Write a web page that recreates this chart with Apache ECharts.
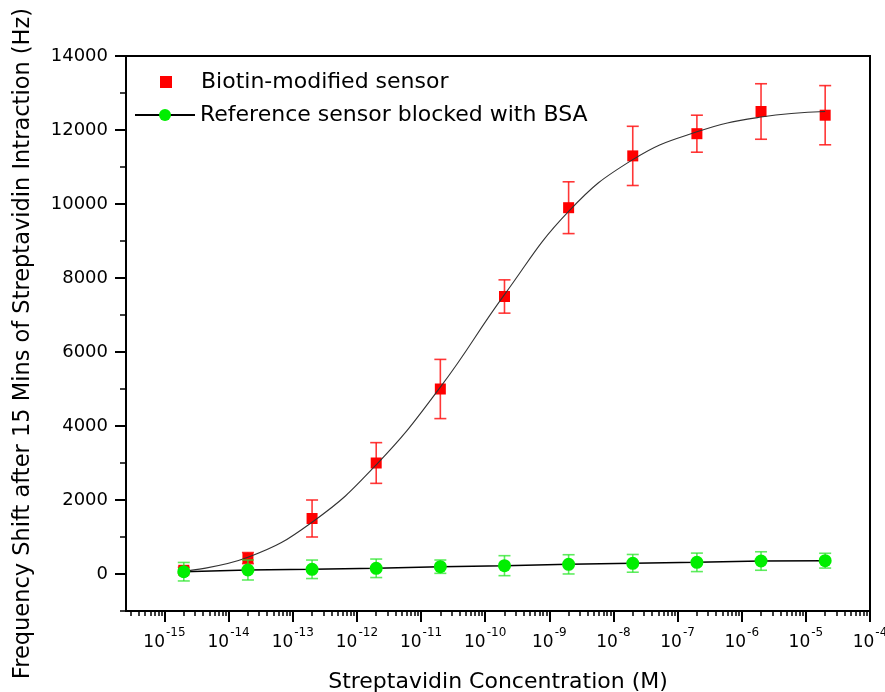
<!DOCTYPE html>
<html>
<head>
<meta charset="utf-8">
<script src="https://cdn.jsdelivr.net/npm/echarts@6/dist/echarts.min.js"></script>
<style>
  html, body { margin: 0; padding: 0; background: #fff; }
  #chart { width: 885px; height: 692px; }
</style>
</head>
<body>
<div id="chart"></div>
<script>
// streptavidin concentration (M)
const concentrations = [2e-15, 2e-14, 2e-13, 2e-12, 2e-11, 2e-10, 2e-9, 2e-8, 2e-7, 2e-6, 2e-5];
// biotin-modified sensor: frequency shift (Hz) and error
const biotinShift = [100, 430, 1500, 3000, 5000, 7500, 9900, 11300, 11900, 12500, 12400];
const biotinErr = [80, 150, 500, 550, 800, 450, 700, 800, 500, 750, 800];
// fitted curve at the same concentrations
const biotinFit = [80, 450, 1400, 2950, 5050, 7550, 9800, 11200, 11950, 12350, 12500];
// reference sensor blocked with BSA
const bsaShift = [62, 108, 127, 154, 198, 225, 261, 288, 315, 351, 360];
const bsaErr = [250, 270, 250, 250, 180, 270, 260, 240, 250, 250, 200];

const xTickExponents = [-15, -14, -13, -12, -11, -10, -9, -8, -7, -6, -5, -4];
const yTickLabels = [0, 2000, 4000, 6000, 8000, 10000, 12000, 14000];
const yMinorTicks = [-1000, 1000, 3000, 5000, 7000, 9000, 11000, 13000];

const FONT = 'DejaVu Sans';
const X_MIN = Math.pow(10, -15.6);
const X_MAX = 1e-4;

const xMajorTicks = xTickExponents.map(e => Math.pow(10, e));
// log minor ticks 2..9 in every decade
let xMinorTicks = [];
for (let k = -16; k <= -5; k++)
{
  for (let m = 2; m <= 9; m++)
  {
    let v = m * Math.pow(10, k);
    if (v > X_MIN && v < X_MAX) xMinorTicks.push(v);
  }
}

function errorBars (color)
{
  return function (params, api)
  {
    let x = api.value(0);
    let y = api.value(1);
    let e = api.value(2);
    let top = api.coord([x, y + e]);
    let bot = api.coord([x, y - e]);
    let hw = 6;
    let style = { stroke: color, lineWidth: 1.6 };
    return {
      type: 'group',
      children: [
        { type: 'line', shape: { x1: top[0], y1: top[1], x2: bot[0], y2: bot[1] }, style: style },
        { type: 'line', shape: { x1: top[0] - hw, y1: top[1], x2: top[0] + hw, y2: top[1] }, style: style },
        { type: 'line', shape: { x1: bot[0] - hw, y1: bot[1], x2: bot[0] + hw, y2: bot[1] }, style: style }
      ]
    };
  };
}

const chart = echarts.init(document.getElementById('chart'), null, { renderer: 'canvas' });

let option = {
  backgroundColor: '#fff',
  animation: false,
  textStyle: { fontFamily: FONT },
  grid: {
    left: 126,
    right: 15,
    top: 56,
    bottom: 81,
    containLabel: false,
    outerBoundsMode: 'none',
    show: true,
    borderColor: '#000',
    borderWidth: 2,
    backgroundColor: 'transparent'
  },
  legend: [
    {
      left: 155,
      top: 66,
      itemWidth: 60,
      itemHeight: 12,
      padding: 5,
      textStyle: { fontFamily: FONT, fontSize: 22, color: '#000' },
      data: [{ name: 'Biotin-modified sensor', icon: 'path://M0,0L10,0L10,10L0,10Z' }]
    },
    {
      left: 129,
      top: 99,
      itemWidth: 60,
      itemHeight: 15,
      padding: 5,
      textStyle: { fontFamily: FONT, fontSize: 22, color: '#000' },
      data: ['Reference sensor blocked with BSA']
    }
  ],
  xAxis: [
    {
      type: 'log',
      min: X_MIN,
      max: X_MAX,
      name: 'Streptavidin Concentration (M)',
      nameLocation: 'middle',
      nameGap: 60,
      nameTextStyle: { fontFamily: FONT, fontSize: 22, color: '#000' },
      axisLine: { show: true, onZero: false, lineStyle: { color: '#000', width: 2 } },
      axisTick: { show: true, inside: false, length: 11, customValues: xMajorTicks, lineStyle: { color: '#000', width: 2 } },
      splitLine: { show: false },
      axisLabel: {
        customValues: xMajorTicks,
        margin: 22,
        formatter: function (v)
        {
          return '{b|10}{e|' + Math.round(Math.log10(v)) + '}';
        },
        rich: {
          b: { fontFamily: FONT, fontSize: 17, lineHeight: 18, color: '#000', verticalAlign: 'bottom' },
          e: { fontFamily: FONT, fontSize: 12, lineHeight: 12, color: '#000', verticalAlign: 'bottom', padding: [0, 0, 12, 1] }
        }
      }
    },
    {
      // minor ticks only
      type: 'log',
      min: X_MIN,
      max: X_MAX,
      position: 'bottom',
      axisLine: { show: false, onZero: false },
      axisLabel: { show: false },
      splitLine: { show: false },
      axisTick: { show: true, length: 5, customValues: xMinorTicks, lineStyle: { color: '#000', width: 1.5 } }
    }
  ],
  yAxis: [
    {
      type: 'value',
      min: -1000,
      max: 14000,
      name: 'Frequency Shift after 15 Mins of Streptavidin Intraction (Hz)',
      nameLocation: 'middle',
      nameGap: 91,
      nameTextStyle: { fontFamily: FONT, fontSize: 22.5, color: '#000', padding: [0, 20, 0, 0] },
      axisLine: { show: true, onZero: false, lineStyle: { color: '#000', width: 2 } },
      axisTick: { show: true, length: 11, customValues: yTickLabels, lineStyle: { color: '#000', width: 2 } },
      axisLabel: {
        customValues: yTickLabels,
        margin: 18,
        fontFamily: FONT,
        fontSize: 18,
        color: '#000',
        formatter: v => String(v)
      },
      splitLine: { show: false }
    },
    {
      // minor ticks only
      type: 'value',
      min: -1000,
      max: 14000,
      position: 'left',
      axisLine: { show: false, onZero: false },
      axisLabel: { show: false },
      splitLine: { show: false },
      axisTick: { show: true, length: 6, customValues: yMinorTicks, lineStyle: { color: '#000', width: 1.5 } }
    }
  ],
  series: [
    {
      name: 'biotin error',
      type: 'custom',
      z: 2,
      renderItem: errorBars('rgba(255,20,20,0.85)'),
      encode: { x: 0, y: 1 },
      data: concentrations.map((c, i) => [c, biotinShift[i], biotinErr[i]])
    },
    {
      name: 'Biotin-modified sensor',
      type: 'scatter',
      z: 3,
      symbol: 'rect',
      symbolSize: 11,
      itemStyle: { color: '#ff0000', opacity: 1 },
      data: concentrations.map((c, i) => [c, biotinShift[i]])
    },
    {
      name: 'fit',
      type: 'line',
      z: 4,
      smooth: 0.45,
      showSymbol: false,
      symbol: 'none',
      lineStyle: { color: '#333', width: 1.1 },
      data: concentrations.map((c, i) => [c, biotinFit[i]])
    },
    {
      name: 'bsa error',
      type: 'custom',
      z: 5,
      renderItem: errorBars('rgba(40,230,40,0.75)'),
      encode: { x: 0, y: 1 },
      data: concentrations.map((c, i) => [c, bsaShift[i], bsaErr[i]])
    },
    {
      name: 'Reference sensor blocked with BSA',
      type: 'line',
      z: 6,
      symbol: 'circle',
      symbolSize: 13,
      lineStyle: { color: '#000', width: 1.5 },
      itemStyle: { color: '#00ee00' },
      data: concentrations.map((c, i) => [c, bsaShift[i]])
    }
  ]
};

chart.setOption(option);
</script>
</body>
</html>
